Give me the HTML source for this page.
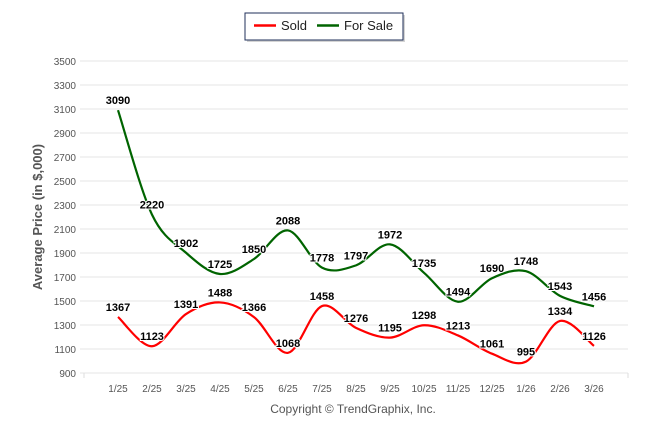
<!DOCTYPE html>
<html><head><meta charset="utf-8"><style>
html,body{margin:0;padding:0;background:#fff;width:646px;height:434px;overflow:hidden}
svg{display:block;font-family:"Liberation Sans",Arial,sans-serif}
</style></head><body>
<svg id="c" width="646" height="434">
<g>
<rect x="247" y="15" width="158" height="27" fill="#aaa" opacity="0.5"/>
<rect x="245" y="13" width="158" height="27" fill="#fff" stroke="#1f2f5a" stroke-width="1"/>
<line x1="254" y1="25.5" x2="276" y2="25.5" stroke="#f00" stroke-width="2.5"/>
<text x="281" y="30" font-size="13" fill="#222">Sold</text>
<line x1="317" y1="25.5" x2="339" y2="25.5" stroke="#006400" stroke-width="2.5"/>
<text x="344" y="30" font-size="13" fill="#222">For Sale</text>
</g>
<text x="0" y="0" transform="translate(42,217) rotate(-90)" text-anchor="middle" font-size="13" font-weight="bold" fill="#555">Average Price (in $,000)</text>
<text x="353" y="413" text-anchor="middle" font-size="12" fill="#555">Copyright © TrendGraphix, Inc.</text>
<g id="grid"></g><g id="lines"></g><g id="labels"></g>
</svg>
<script>
const categories=["1/25","2/25","3/25","4/25","5/25","6/25","7/25","8/25","9/25","10/25","11/25","12/25","1/26","2/26","3/26"];
const sold=[1367,1123,1391,1488,1366,1068,1458,1276,1195,1298,1213,1061,995,1334,1126];
const forSale=[3090,2220,1902,1725,1850,2088,1778,1797,1972,1735,1494,1690,1748,1543,1456];
const yTicks=[900,1100,1300,1500,1700,1900,2100,2300,2500,2700,2900,3100,3300,3500];
const NS="http://www.w3.org/2000/svg";
const L=84,R=628,yMin=900,yMax=3500,yTop=61,yBot=373;
const step=(R-L)/(categories.length+1);
const x=i=>L+step*(i+1);
const y=v=>yBot-(v-yMin)/(yMax-yMin)*(yBot-yTop);
function mk(t,a,p){const e=document.createElementNS(NS,t);for(const k in a)e.setAttribute(k,a[k]);p.appendChild(e);return e;}
const grid=document.getElementById('grid');
yTicks.forEach(v=>{
 const l=mk('line',{x1:L-4,x2:R,y1:y(v),y2:y(v),stroke:'#e6e6e6','stroke-width':1},grid);
 
 
 const t=mk('text',{x:L-8,y:y(v)+4,'text-anchor':'end','font-size':10,fill:'#555'},grid);
 t.textContent=v;
 
 
});
mk('line',{x1:L,x2:L,y1:yBot,y2:yBot+5,stroke:'#ddd'},grid);
mk('line',{x1:R,x2:R,y1:yBot,y2:yBot+5,stroke:'#ddd'},grid);
categories.forEach((c,i)=>{
 const t=mk('text',{x:x(i),y:392,'text-anchor':'middle','font-size':10,fill:'#555'},grid);
 t.textContent=c;
 
 
});
function path(vals){
 const p=vals.map((v,i)=>[x(i),y(v)]);
 let d='M'+p[0][0]+','+p[0][1];const s=0.3;
 for(let i=0;i<p.length-1;i++){
  const p0=p[Math.max(0,i-1)],p1=p[i],p2=p[i+1],p3=p[Math.min(p.length-1,i+2)];
  const c1=[p1[0]+(p2[0]-p0[0])*s/2*1.1,p1[1]+(p2[1]-p0[1])*s/2*1.1];
  const c2=[p2[0]-(p3[0]-p1[0])*s/2*1.1,p2[1]-(p3[1]-p1[1])*s/2*1.1];
  d+=' C'+c1+' '+c2+' '+p2;
 }
 return d;
}
const lines=document.getElementById('lines'),labels=document.getElementById('labels');
[[forSale,'#006400','for-sale'],[sold,'#f00','sold']].forEach(([vals,col,nm])=>{
 const pth=mk('path',{d:path(vals),fill:'none',stroke:col,'stroke-width':2.2},lines);
 
 
 vals.forEach((v,i)=>{
  const t=mk('text',{x:x(i),y:y(v)-6,'text-anchor':'middle','font-size':11,'font-weight':'bold',fill:'#000',stroke:'#fff','stroke-width':2,'paint-order':'stroke'},labels);
  t.textContent=v;
  
  
 });
});
</script>
</body></html>
